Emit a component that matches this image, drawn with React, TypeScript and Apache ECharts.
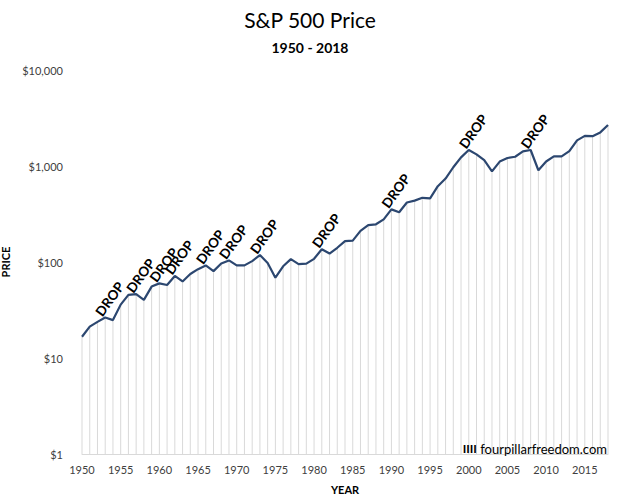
import React, { useEffect, useRef } from "react";
import * as echarts from "echarts";

const years: string[] = [];
for (let y = 1950; y <= 2018; y++) years.push(String(y));

const prices: number[] = [
  16.66, 21.21, 23.77, 26.38, 24.81, 35.98, 45.48, 46.2, 40.33, 55.44,
  59.89, 57.57, 71.55, 62.69, 75.02, 84.23, 92.18, 80.38, 96.47, 103.86,
  92.06, 92.15, 102.09, 118.05, 97.55, 68.65, 90.19, 107.0, 95.1, 96.11,
  107.94, 135.76, 122.55, 140.64, 164.93, 167.24, 211.28, 242.17, 247.08, 277.72,
  353.4, 330.22, 417.09, 435.71, 466.45, 459.27, 615.93, 740.74, 970.43, 1229.23,
  1469.25, 1320.28, 1148.08, 879.82, 1111.92, 1211.92, 1248.29, 1418.3, 1468.36, 903.25,
  1115.1, 1257.64, 1257.6, 1426.19, 1848.36, 2058.9, 2043.94, 2238.83, 2673.61,
];

const dropYears: string[] = [
  "1953", "1957", "1960", "1962", "1966", "1969", "1973", "1981", "1990", "2000", "2008",
];

const yTicks: number[] = [1, 10, 100, 1000, 10000];

const FONT = "Lato, 'Open Sans', sans-serif";

export default function App() {
  const ref = useRef<HTMLDivElement>(null);
  useEffect(() => {
    if (!ref.current) return;
    const chart = echarts.init(ref.current, undefined, { renderer: "svg" });
    const dropData = years
      .map((y, i) => [i, prices[i], y])
      .filter((d) => dropYears.includes(d[2] as string))
      .map((d) => [d[0], d[1]]);
    chart.setOption({
      animation: false,
      backgroundColor: "#fff",
      title: [
        {
          text: "S&P 500 Price",
          left: "center",
          top: 4,
          textStyle: { fontFamily: FONT, fontSize: 21, fontWeight: "normal", color: "#000" },
        },
        {
          text: "1950 - 2018",
          left: "center",
          top: 35,
          textStyle: { fontFamily: FONT, fontSize: 14, fontWeight: "bold", color: "#000" },
        },
      ],
      grid: { left: 82, right: 12, top: 70, bottom: 45, containLabel: false, outerBoundsMode: "none" },
      xAxis: {
        type: "category",
        data: years,
        boundaryGap: false,
        name: "YEAR",
        nameLocation: "middle",
        nameGap: 30,
        nameTextStyle: { fontFamily: FONT, fontSize: 11, fontWeight: "bold", color: "#000" },
        axisLine: { lineStyle: { color: "#d9d9d9" } },
        axisTick: { show: false },
        axisLabel: { interval: 4, color: "#404040", fontSize: 11, fontFamily: FONT, margin: 10 },
        splitLine: { show: false },
      },
      yAxis: {
        type: "log",
        logBase: 10,
        min: yTicks[0],
        max: yTicks[yTicks.length - 1],
        name: "PRICE",
        nameLocation: "middle",
        nameGap: 68,
        nameTextStyle: { fontFamily: FONT, fontSize: 11, fontWeight: "bold", color: "#000" },
        axisLine: { show: false },
        axisTick: { show: false },
        splitLine: { show: false },
        axisLabel: {
          color: "#404040",
          fontSize: 11,
          fontFamily: FONT,
          margin: 19,
          formatter: (v: number) => "$" + Math.round(v).toLocaleString("en-US"),
        },
      },
      series: [
        {
          type: "bar",
          data: prices,
          barWidth: 1,
          itemStyle: { color: "#d9d9d9" },
          z: 1,
          silent: true,
        },
        {
          type: "line",
          data: prices,
          symbol: "none",
          smooth: false,
          lineStyle: { color: "#2c4770", width: 2.2 },
          z: 3,
        },
        {
          type: "custom",
          data: dropData,
          z: 4,
          silent: true,
          renderItem: (params: any, api: any) => {
            const p = api.coord([api.value(0), api.value(1)]);
            return {
              type: "text",
              x: p[0] - 1,
              y: p[1] + 1,
              rotation: (54 * Math.PI) / 180,
              style: {
                text: "DROP",
                x: 0,
                y: 0,
                align: "left",
                verticalAlign: "bottom",
                fontFamily: FONT,
                fontSize: 13.5,
                fontWeight: "bold",
                fill: "#000",
              },
            };
          },
        },
      ],
      graphic: [
        {
          type: "text",
          right: 13,
          top: 442,
          style: {
            text: "{b|IIII} {n|fourpillarfreedom.com}",
            rich: {
              b: { fontFamily: FONT, fontSize: 12, fontWeight: "bold", fill: "#000" },
              n: { fontFamily: FONT, fontSize: 13, fill: "#000" },
            },
          },
          z: 10,
        },
      ],
    });
    return () => chart.dispose();
  }, []);
  return (
    <div
      ref={ref}
      style={{ position: "fixed", left: 0, top: 0, width: 620, height: 499 }}
    />
  );
}
